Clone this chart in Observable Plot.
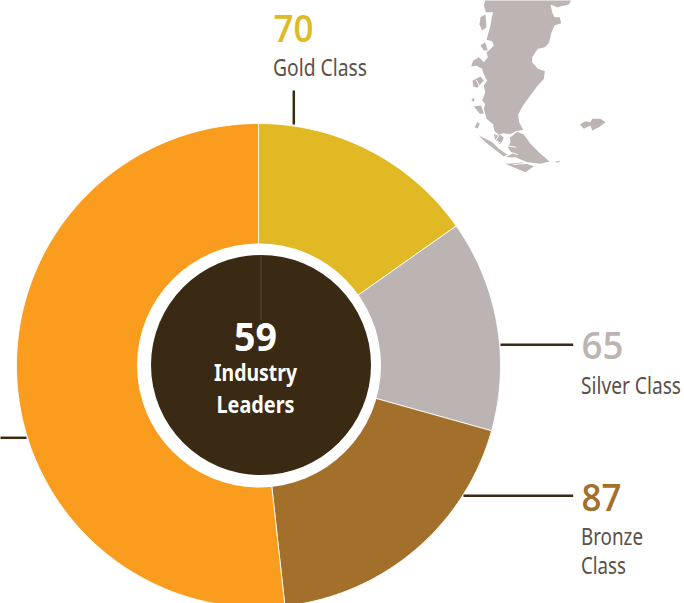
<!DOCTYPE html>
<html><head><meta charset="utf-8">
<style>html,body{margin:0;padding:0;background:#fff}svg{display:block}</style>
<script src="https://cdn.jsdelivr.net/npm/d3@7"></script>
<script src="https://cdn.jsdelivr.net/npm/@observablehq/plot@0.6"></script>
</head><body>
<script>
const categories = ["Gold Class", "Silver Class", "Bronze Class", "Other"];
const values = [70, 65, 87, 238];
const sliceColors = ["#E0B924", "#BCB4B3", "#A3702C", "#FA9C1E"];
const DARK = "#3A2913", TEXT = "#5C5048";

const mapMain = [[104,0],[100,15],[106,35],[128,35],[124,50],[120,75],[113,100],[108,118],[125,122],[130,135],[118,148],[108,155],[112,170],[100,185],[85,170],[68,180],[62,198],[78,196],[95,205],[100,222],[110,240],[100,255],[104,275],[95,300],[104,310],[100,325],[108,355],[128,372],[132,392],[145,402],[160,398],[178,402],[195,392],[218,388],[206,365],[203,342],[218,314],[240,284],[262,255],[280,235],[283,212],[262,205],[245,185],[245,170],[262,145],[283,140],[295,128],[303,95],[312,75],[332,68],[328,50],[312,50],[305,35],[300,12],[320,20],[355,12],[362,0]];
const mapIslands = [
  [[178,412],[200,394],[220,402],[240,430],[270,460],[297,483],[270,490],[230,485],[195,470],[165,470],[185,460],[172,440],[180,425]],
  [[85,405],[105,415],[125,425],[145,445],[170,462],[160,468],[130,445],[105,425]],
  [[130,400],[150,403],[160,412],[150,432],[135,420]],
  [[72,380],[80,365],[88,370],[82,384]],
  [[90,50],[105,42],[108,80],[95,90],[87,72]],
  [[66,240],[90,228],[100,240],[80,262],[68,258]],
  [[62,296],[72,292],[70,305]],
  [[70,318],[92,315],[100,340],[88,340]],
  [[90,135],[104,125],[112,150],[100,150]],
  [[388,372],[405,362],[420,365],[425,355],[450,355],[465,365],[445,380],[425,390],[420,375],[400,385]],
  [[310,485],[330,480],[325,486]],
  [[165,490],[215,486],[250,497],[225,515],[200,505]]
];
const mapFjords = [
  [[118,368],[128,385],[120,395],[145,405],[135,420],[155,430]],
  [[175,400],[168,435],[195,440]],
  [[180,455],[200,462]],
  [[190,492],[240,488]],
  [[78,240],[90,262],[80,275]],
  [[112,130],[122,128],[126,136],[118,138],[112,130]]
];
const toMap = ([a, b]) => ({x: 450 + a / 3, y: b / 3});

const CX = 258, CY = 365, R = 242;
const pie = d3.pie().sort(null)(values);
const slicePts = pie.map(p => {
  const pts = [{x: CX, y: CY}];
  const n = Math.ceil((p.endAngle - p.startAngle) * 60);
  for (let i = 0; i <= n; i++) {
    const a = p.startAngle + (p.endAngle - p.startAngle) * i / n;
    pts.push({x: CX + R * Math.sin(a), y: CY - R * Math.cos(a)});
  }
  pts.push({x: CX, y: CY});
  return pts;
});

const leaders = [
  {x1: 293.3, y1: 90, x2: 293.3, y2: 124},
  {x1: 500, y1: 344.3, x2: 572.7, y2: 344.3},
  {x1: 463, y1: 495.3, x2: 572.7, y2: 495.3},
  {x1: 0, y1: 437.3, x2: 26, y2: 437.3}
];
const numbers = [
  {x: 273, y: 41, t: "70", c: sliceColors[0]},
  {x: 581, y: 358, t: "65", c: sliceColors[1]},
  {x: 581, y: 510, t: "87", c: sliceColors[2]}
];
const labels = [
  {x: 272.5, y: 75, t: "Gold Class"},
  {x: 580.5, y: 393, t: "Silver Class"},
  {x: 580.5, y: 544, t: "Bronze"},
  {x: 580.5, y: 573, t: "Class"}
];
const centre = [
  {x: 255, y: 350, t: "59", s: 39, f: "Open Sans"},
  {x: 255, y: 380, t: "Industry", s: 24, f: "Noto Sans"},
  {x: 255, y: 412, t: "Leaders", s: 24, f: "Noto Sans"}
];
const textWidths = {"Gold Class": 94, "Silver Class": 100, "Bronze": 62, "Class": 45, "Industry": 83, "Leaders": 78, "70": 40, "65": 42, "87": 40, "59": 43};

const marks = [
  Plot.line(mapMain.map(toMap), {x: "x", y: "y", fill: "#BDB5B4", stroke: "none"}),
  ...mapIslands.map(s => Plot.line(s.map(toMap), {x: "x", y: "y", fill: "#BDB5B4", stroke: "none"})),
  ...mapFjords.map(s => Plot.line(s.map(toMap), {x: "x", y: "y", stroke: "#fff", strokeWidth: 1})),
  ...slicePts.map((pts, i) => Plot.line(pts, {x: "x", y: "y", fill: sliceColors[i], stroke: "#fff", strokeWidth: 1, strokeOpacity: 0.85})),
  Plot.dot([{x: 258.5, y: 365}], {x: "x", y: "y", r: 122, fill: "#fff", stroke: "none"}),
  Plot.dot([{x: 260.5, y: 364.5}], {x: "x", y: "y", r: 110, fill: DARK, stroke: "none"}),
  Plot.ruleX([260.5], {y1: 255, y2: 320, stroke: "#5A4A38", strokeWidth: 1}),
  Plot.link(leaders, {x1: "x1", y1: "y1", x2: "x2", y2: "y2", stroke: DARK, strokeWidth: 2.5}),
  Plot.text(numbers, {x: "x", y: "y", text: "t", fill: "c", textAnchor: "start", lineAnchor: "bottom", fontSize: 38, fontWeight: 600, fontFamily: "Open Sans"}),
  Plot.text(labels, {x: "x", y: "y", text: "t", fill: TEXT, textAnchor: "start", lineAnchor: "bottom", fontSize: 24, fontFamily: "Noto Sans"}),
  ...centre.map(d => Plot.text([d], {x: "x", y: "y", text: "t", fill: "#fff", textAnchor: "middle", lineAnchor: "bottom", fontSize: d.s, fontWeight: 700, fontFamily: d.f}))
];

const chart = Plot.plot({
  width: 684, height: 603, margin: 0,
  x: {domain: [0, 684], range: [0, 684], axis: null},
  y: {domain: [0, 603], range: [0, 603], axis: null},
  marks
});
chart.querySelectorAll("text").forEach(t => {
  const w = textWidths[t.textContent];
  if (w) { t.setAttribute("textLength", w); t.setAttribute("lengthAdjust", "spacingAndGlyphs"); }
});
document.body.append(chart);
</script>
</body></html>
